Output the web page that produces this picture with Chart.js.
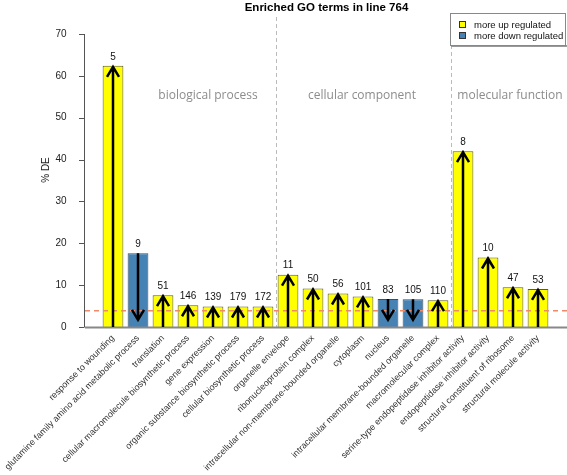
<!DOCTYPE html>
<html>
<head>
<meta charset="utf-8">
<script src="https://cdn.jsdelivr.net/npm/chart.js@4"></script>
<style>
  html, body { margin: 0; padding: 0; background: #fff; }
  canvas { display: block; }
</style>
</head>
<body>
<canvas id="go-chart" width="567" height="475"></canvas>
<script>
const categories = [
    "response to wounding",
    "glutamine family amino acid metabolic process",
    "translation",
    "cellular macromolecule biosynthetic process",
    "gene expression",
    "organic substance biosynthetic process",
    "cellular biosynthetic process",
    "organelle envelope",
    "ribonucleoprotein complex",
    "intracellular non-membrane-bounded organelle",
    "cytoplasm",
    "nucleus",
    "intracellular membrane-bounded organelle",
    "macromolecular complex",
    "serine-type endopeptidase inhibitor activity",
    "endopeptidase inhibitor activity",
    "structural constituent of ribosome",
    "structural molecule activity"
];
const percentDE = [62.4, 17.6, 7.6, 5.2, 4.9, 4.9, 4.9, 12.5, 9.2, 8.0, 7.3, 6.7, 6.6, 6.4, 42.0, 16.6, 9.5, 9.1];
const geneCounts = [5, 9, 51, 146, 139, 179, 172, 11, 50, 56, 101, 83, 105, 110, 8, 10, 47, 53];
const direction = ["up", "down", "up", "up", "up", "up", "up", "up", "up", "up", "up", "down", "down", "up", "up", "up", "up", "up"];
const yTicks = [0, 10, 20, 30, 40, 50, 60, 70];
const groupNames = ["biological process", "cellular component", "molecular function"];
const groupSizes = [7, 7, 4];
const cutoff = 3.9;
const downArrowEnd = 1.7;

const UP_COLOR = "#FFFF00";
const DOWN_COLOR = "#4682B4";
const FONT = "'Liberation Sans', Arial, sans-serif";

// everything R drew by hand: axis, arrows, counts, dividers, legend
const extras = {
    id: "extras",
    afterDatasetsDraw(chart) {
        const ctx = chart.ctx;
        const x = chart.scales.x;
        const y = chart.scales.y;
        const W = chart.width;
        const axisX = 84;

        ctx.save();

        // group dividers
        ctx.strokeStyle = "#bbbbbb";
        ctx.lineWidth = 1;
        ctx.setLineDash([4, 3]);
        let start = 0;
        groupSizes.forEach((n, g) => {
            start += n;
            if (g < groupSizes.length - 1) {
                const mid = (x.getPixelForValue(start - 1) + x.getPixelForValue(start)) / 2;
                ctx.beginPath();
                ctx.moveTo(Math.round(mid) + 0.5, 17);
                ctx.lineTo(Math.round(mid) + 0.5, y.getPixelForValue(0));
                ctx.stroke();
            }
        });

        // cutoff line
        ctx.strokeStyle = "#ee8a6a";
        ctx.lineWidth = 1.5;
        ctx.setLineDash([5, 4]);
        ctx.beginPath();
        ctx.moveTo(axisX + 1, y.getPixelForValue(cutoff));
        ctx.lineTo(W, y.getPixelForValue(cutoff));
        ctx.stroke();
        ctx.setLineDash([]);

        // baseline
        ctx.strokeStyle = "#888888";
        ctx.lineWidth = 2;
        ctx.beginPath();
        ctx.moveTo(axisX + 1, y.getPixelForValue(0) + 0.5);
        ctx.lineTo(W, y.getPixelForValue(0) + 0.5);
        ctx.stroke();

        // y axis line and ticks
        ctx.strokeStyle = "#555555";
        ctx.lineWidth = 1;
        ctx.beginPath();
        ctx.moveTo(axisX + 0.5, y.getPixelForValue(0));
        ctx.lineTo(axisX + 0.5, y.getPixelForValue(70));
        yTicks.forEach(t => {
            const py = Math.round(y.getPixelForValue(t)) + 0.5;
            ctx.moveTo(axisX - 5, py);
            ctx.lineTo(axisX + 0.5, py);
        });
        ctx.stroke();

        // arrows and gene counts
        ctx.strokeStyle = "#000000";
        ctx.lineWidth = 2.5;
        ctx.fillStyle = "#111111";
        ctx.font = "10px " + FONT;
        ctx.textAlign = "center";
        ctx.textBaseline = "bottom";
        percentDE.forEach((v, i) => {
            const px = x.getPixelForValue(i);
            const top = y.getPixelForValue(v);
            let from, to;
            if (direction[i] === "up") {
                from = y.getPixelForValue(0);
                to = top + 1;
            } else {
                from = top;
                to = y.getPixelForValue(downArrowEnd);
            }
            const dir = to < from ? 1 : -1;
            ctx.beginPath();
            ctx.moveTo(px, from);
            ctx.lineTo(px, to);
            ctx.moveTo(px - 6, to + dir * 10);
            ctx.lineTo(px, to);
            ctx.lineTo(px + 6, to + dir * 10);
            ctx.stroke();

            ctx.fillText(String(geneCounts[i]), px, top - 4);
        });

        // group names
        ctx.fillStyle = "#8c8c8c";
        ctx.font = "12px 'Open Sans', sans-serif";
        ctx.textBaseline = "alphabetic";
        ctx.textAlign = "center";
        ctx.fillText(groupNames[0], 208, 99);
        ctx.fillText(groupNames[1], 362, 99);
        ctx.fillText(groupNames[2], 510, 99);

        // title
        ctx.fillStyle = "#000000";
        ctx.font = "bold 11.5px " + FONT;
        ctx.textBaseline = "middle";
        ctx.fillText("Enriched GO terms in line 764", (axisX + W) / 2 + 1, 8);

        // y title
        ctx.save();
        ctx.translate(46, 170);
        ctx.rotate(-Math.PI / 2);
        ctx.font = "10px " + FONT;
        ctx.fillStyle = "#222222";
        ctx.fillText("% DE", 0, 0);
        ctx.restore();

        // legend
        ctx.fillStyle = "#999999";
        ctx.fillRect(451, 45, 116, 2);
        ctx.fillStyle = "#ffffff";
        ctx.fillRect(450, 13, 116, 33);
        ctx.strokeStyle = "#888888";
        ctx.lineWidth = 1;
        ctx.strokeRect(450.5, 13.5, 115, 32);
        const legendItems = [["more up regulated", UP_COLOR, 25], ["more down regulated", DOWN_COLOR, 36]];
        ctx.font = "9.5px " + FONT;
        ctx.textAlign = "left";
        legendItems.forEach(([label, color, ly]) => {
            ctx.fillStyle = color;
            ctx.fillRect(459.5, ly - 3.5, 6, 6);
            ctx.strokeStyle = "#333333";
            ctx.strokeRect(459.5, ly - 3.5, 6, 6);
            ctx.fillStyle = "#111111";
            ctx.fillText(label, 474, ly);
        });

        ctx.restore();
    }
};

new Chart(document.getElementById("go-chart"), {
    type: "bar",
    data: {
        labels: categories,
        datasets: [{
            data: percentDE,
            backgroundColor: direction.map(d => d === "up" ? UP_COLOR : DOWN_COLOR),
            borderColor: direction.map(d => d === "up" ? "#5c5c1e" : "#3d4f5c"),
            borderWidth: 1,
            barPercentage: 0.83,
            categoryPercentage: 1
        }]
    },
    options: {
        responsive: false,
        animation: false,
        layout: { padding: { top: 34, right: 16.5, left: 0, bottom: 0 } },
        plugins: {
            legend: { display: false },
            tooltip: { enabled: false }
        },
        scales: {
            x: {
                grid: { display: false },
                border: { display: false },
                ticks: {
                    autoSkip: false,
                    maxRotation: 45,
                    minRotation: 45,
                    padding: -2,
                    color: "#333333",
                    font: { family: FONT, size: 9 }
                },
                afterFit: s => { s.height = 148; }
            },
            y: {
                min: 0,
                max: 70,
                grid: { display: false },
                border: { display: false },
                ticks: {
                    stepSize: 10,
                    padding: 26,
                    color: "#222222",
                    font: { family: FONT, size: 10 }
                },
                afterFit: s => { s.width = 100.5; }
            }
        }
    },
    plugins: [extras]
});
</script>
</body>
</html>
